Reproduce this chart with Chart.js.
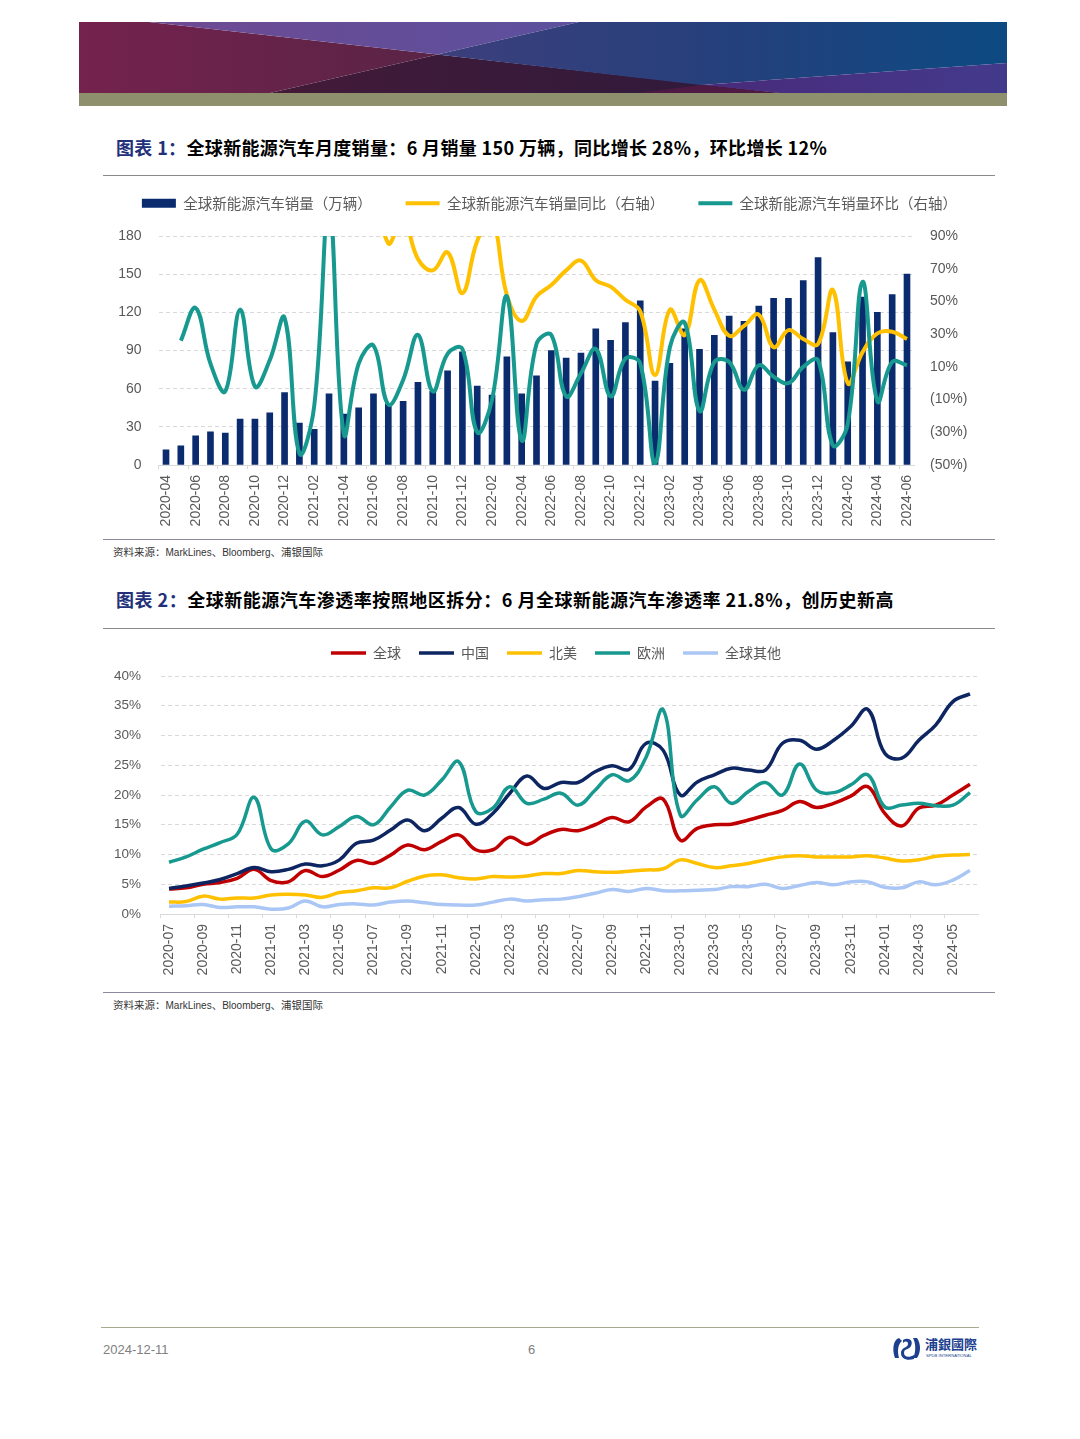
<!DOCTYPE html>
<html><head><meta charset="utf-8">
<script src="https://cdn.jsdelivr.net/npm/chart.js@4/dist/chart.umd.min.js"></script>
<style>
html,body{margin:0;padding:0;background:#fff;}
body{width:1080px;height:1439px;position:relative;overflow:hidden;font-family:"Noto Sans CJK SC","Noto Sans",sans-serif;}
.abs{position:absolute;}
.title{font-size:18px;font-weight:700;color:#000;white-space:nowrap;}
.title .lbl{color:#22307a;}
.rule{position:absolute;height:0;}
.src{font-size:10.5px;color:#333;white-space:nowrap;}
.src .lat{font-family:"Liberation Sans",Arial,sans-serif;font-size:10px;}
.foot{font-family:"Liberation Sans",Arial,sans-serif;font-size:13px;color:#808080;}
</style></head>
<body>
<svg class="abs" style="left:79px;top:22px" width="928" height="84" viewBox="0 0 928 84">
<defs>
<linearGradient id="gL" x1="0" x2="1"><stop offset="0" stop-color="#74224e"/><stop offset="1" stop-color="#5a2446"/></linearGradient>
<linearGradient id="gT" x1="0" x2="1"><stop offset="0" stop-color="#6e4a92"/><stop offset="1" stop-color="#5c509e"/></linearGradient>
<linearGradient id="gB" x1="0" x2="1"><stop offset="0" stop-color="#431a38"/><stop offset="1" stop-color="#2e1a3c"/></linearGradient>
<linearGradient id="gR" x1="0" x2="1"><stop offset="0" stop-color="#3c3f7c"/><stop offset="0.5" stop-color="#25407c"/><stop offset="1" stop-color="#0d4a82"/></linearGradient>
<linearGradient id="gP" x1="0" x2="1"><stop offset="0" stop-color="#4a2a7a"/><stop offset="1" stop-color="#433a8c"/></linearGradient>
</defs>
<polygon points="0,0 70,0 358.5,32.5 191,71 0,71" fill="url(#gL)"/>
<polygon points="70,0 500,0 358.5,32.5" fill="url(#gT)"/>
<polygon points="191,71 358.5,32.5 700,71" fill="url(#gB)"/>
<polygon points="500,0 928,0 928,41 622,63 358.5,32.5" fill="url(#gR)"/>
<polygon points="622,63 928,41 928,71 700,71" fill="url(#gP)"/>
<polygon points="560,71 622,63 700,71" fill="#4e1a44"/>
<rect x="0" y="71" width="928" height="13" fill="#8e8f6d"/>
</svg>

<div class="abs title" style="left:116px;top:134px;letter-spacing:0.35px;"><span class="lbl">图表 1：</span>全球新能源汽车月度销量：6 月销量 150 万辆，同比增长 28%，环比增长 12%</div>
<div class="rule" style="left:103px;top:175px;width:892px;border-top:1.5px solid #8a8a8a;"></div>

<div class="abs" style="left:100px;top:162px;width:899px;height:378px;"><canvas id="c1"></canvas></div>

<div class="rule" style="left:103px;top:539px;width:892px;border-top:1.5px solid #8a8a9e;"></div>
<div class="abs src" style="left:113px;top:544px;">资料来源：<span class="lat">MarkLines</span>、<span class="lat">Bloomberg</span>、浦银国际</div>

<div class="abs title" style="left:116px;top:586px;letter-spacing:0.5px;"><span class="lbl">图表 2：</span>全球新能源汽车渗透率按照地区拆分：6 月全球新能源汽车渗透率 21.8%，创历史新高</div>
<div class="rule" style="left:103px;top:628px;width:892px;border-top:1.5px solid #8a8a8a;"></div>

<div class="abs" style="left:100px;top:628px;width:912px;height:362px;"><canvas id="c2"></canvas></div>

<div class="rule" style="left:103px;top:992px;width:892px;border-top:1.5px solid #8a8a9e;"></div>
<div class="abs src" style="left:113px;top:997px;">资料来源：<span class="lat">MarkLines</span>、<span class="lat">Bloomberg</span>、浦银国际</div>

<div class="rule" style="left:101px;top:1327px;width:878px;border-top:1.5px solid #a9a98c;"></div>
<div class="abs foot" style="left:103px;top:1342px;">2024-12-11</div>
<div class="abs foot" style="left:528px;top:1342px;">6</div>
<svg class="abs" style="left:890px;top:1334px" width="92" height="28" viewBox="0 0 92 28">
<path d="M9 4 C3 6 2 16 5 24 L9 24 C7 17 8 10 12 7 Z" fill="#1d3f8f"/>
<path d="M13 6 C18 3 24 6 21 12 C19 16 14 14 14 19 C14 23 19 24 24 21 L24 25 C17 27 11 25 11 19 C11 13 18 14 18 10 C18 7 15 7 13 9 Z" fill="#1d3f8f"/>
<path d="M27 4 C31 10 31 18 27 24 L23 24 C26 18 26 10 23 4 Z" fill="#1d3f8f"/>
<text x="35" y="15" font-family="Noto Sans CJK TC" font-weight="700" font-size="13" fill="#1d3f8f">浦銀國際</text>
<text x="36" y="23" font-family="Liberation Sans" font-size="4.2" fill="#1d3f8f">SPDB INTERNATIONAL</text>
</svg>

<script>
// ---------- Chart 1 data ----------
const months1 = ["2020-04","2020-05","2020-06","2020-07","2020-08","2020-09","2020-10","2020-11","2020-12",
"2021-01","2021-02","2021-03","2021-04","2021-05","2021-06","2021-07","2021-08","2021-09","2021-10","2021-11","2021-12",
"2022-01","2022-02","2022-03","2022-04","2022-05","2022-06","2022-07","2022-08","2022-09","2022-10","2022-11","2022-12",
"2023-01","2023-02","2023-03","2023-04","2023-05","2023-06","2023-07","2023-08","2023-09","2023-10","2023-11","2023-12",
"2024-01","2024-02","2024-03","2024-04","2024-05","2024-06"];
const salesVolume = [12,15,23,26,25,36,36,41,57,33,28,56,40,45,56,48,50,65,58,74,89,62,55,85,56,70,90,84,88,107,98,112,129,66,80,107,91,102,117,113,125,131,131,145,163,104,81,132,120,134,150];
const salesYoY = [null,null,null,null,null,null,null,null,null,null,null,null,250,180,130,85.5,100,76,69,80,55,87,100,54,38,53,60,69,75,63,59,51,44,5,45,29.5,63,45,29,35,42,22,32.5,27,24,57,0,19,30.5,31.5,27];
const salesMoM = [null,26,46,12,-5,45,-2,14,40,-43,-14,110,-31,12,23,-13,2,29.5,-5,18,21,-30,-10,53,-35,24,29.5,-8,6,21,-8,15,12,-49,22,37,-17,13,13,-4,11,4,0,10,14,-38,-25,62,-11,13,11];
const series1Names = ["全球新能源汽车销量（万辆）","全球新能源汽车销量同比（右轴）","全球新能源汽车销量环比（右轴）"];

// ---------- Chart 2 data ----------
const months2 = ["2020-07","2020-08","2020-09","2020-10","2020-11","2020-12",
"2021-01","2021-02","2021-03","2021-04","2021-05","2021-06","2021-07","2021-08","2021-09","2021-10","2021-11","2021-12",
"2022-01","2022-02","2022-03","2022-04","2022-05","2022-06","2022-07","2022-08","2022-09","2022-10","2022-11","2022-12",
"2023-01","2023-02","2023-03","2023-04","2023-05","2023-06","2023-07","2023-08","2023-09","2023-10","2023-11","2023-12",
"2024-01","2024-02","2024-03","2024-04","2024-05","2024-06"];
const penGlobal = [4.2,4.4,5.0,5.3,6.0,7.5,5.6,5.4,7.3,6.3,7.4,9.0,8.5,9.9,11.6,10.8,12.2,13.3,10.8,10.8,12.9,11.7,13.2,14.2,14.0,15.0,16.2,15.5,18.0,19.3,12.4,14.4,15.0,15.1,15.8,16.6,17.4,18.9,17.9,18.6,19.8,21.4,16.9,14.8,17.8,18.3,20.0,21.8];
const penChina = [4.3,4.7,5.2,5.8,6.8,7.8,7.1,7.5,8.4,8.1,9.1,11.9,12.4,14.1,15.8,14.0,16.1,17.9,15.1,16.9,20.3,23.2,21.1,22.1,22.1,23.9,24.9,24.3,28.7,27.5,20.0,22.2,23.4,24.5,24.2,24.2,28.7,29.2,27.7,29.2,31.5,34.4,27.0,26.2,29.2,31.8,35.7,37.0];
const penNorthAmerica = [2.0,2.1,3.0,2.5,2.7,2.7,3.2,3.3,3.2,2.8,3.6,3.9,4.4,4.4,5.5,6.4,6.6,6.1,5.9,6.3,6.2,6.4,6.8,6.8,7.3,7.1,7.0,7.2,7.4,7.6,9.1,8.5,7.8,8.1,8.5,9.1,9.6,9.8,9.6,9.6,9.6,9.8,9.4,8.9,9.1,9.7,9.9,10.0];
const penEurope = [8.7,9.6,10.9,12.0,13.4,19.6,10.9,11.8,15.6,13.3,14.7,16.4,15.0,18.0,20.8,20.0,22.5,25.6,17.2,17.8,21.4,18.6,19.3,20.3,18.3,20.8,23.4,22.4,26.4,34.3,16.6,19.2,21.4,18.6,20.6,22.1,20.0,25.2,20.8,20.4,21.7,23.4,18.0,18.3,18.6,18.2,18.3,20.4];
const penRest = [1.3,1.4,1.6,1.1,1.2,1.2,0.8,1.0,2.2,1.2,1.6,1.7,1.5,2.0,2.2,1.9,1.6,1.5,1.5,2.0,2.5,2.2,2.4,2.5,2.9,3.5,4.1,3.8,4.3,3.9,3.9,4.0,4.1,4.6,4.6,5.0,4.3,4.8,5.3,4.9,5.4,5.4,4.5,4.4,5.4,4.9,5.7,7.3];
const series2Names = ["全球","中国","北美","欧洲","全球其他"];

// ---------- shared styles ----------
const NAVY = "#0b2b6f", YELLOW = "#ffc000", TEAL = "#17998f";
const GRID = "#d9d9d9", TXT = "#595959";
const xFont = {family:"Liberation Sans", size:14};
const yFont = {family:"Liberation Sans", size:14};

function xAxis(h){
  return {
    offset:true,
    grid:{display:true, drawOnChartArea:false, drawTicks:true, tickLength:4, offset:true,
          color:(c)=> (c.index % 2 === 0 ? GRID : 'rgba(0,0,0,0)')},
    border:{display:true, color:GRID, width:1},
    ticks:{autoSkip:false, maxRotation:90, minRotation:90, padding:6, color:TXT, font:xFont,
           callback:function(v,i){ return i % 2 === 0 ? this.getLabelForValue(v) : ''; }},
    afterFit:(s)=>{ s.height = h; }
  };
}

Chart.defaults.font.family = "Liberation Sans";

new Chart(document.getElementById('c1'), {
  data:{
    labels: months1,
    datasets:[
      {type:'bar', label:series1Names[0], data:salesVolume, yAxisID:'y', backgroundColor:NAVY, borderWidth:0,
       barThickness:6, order:3, pointStyle:'rect'},
      {type:'line', label:series1Names[1], data:salesYoY, yAxisID:'y1', borderColor:YELLOW, backgroundColor:YELLOW,
       borderWidth:4, pointRadius:0, pointHoverRadius:0, pointBorderWidth:4, pointStyle:'line', tension:0.4, fill:false, order:2},
      {type:'line', label:series1Names[2], data:salesMoM, yAxisID:'y1', borderColor:TEAL, backgroundColor:TEAL,
       borderWidth:4, pointRadius:0, pointHoverRadius:0, pointBorderWidth:4, pointStyle:'line', tension:0.4, fill:false, order:1}
    ]
  },
  options:{
    responsive:true, maintainAspectRatio:false, animation:false,
    layout:{padding:{top:0,left:0,right:0,bottom:5}},
    plugins:{
      legend:{position:'top', labels:{usePointStyle:true, pointStyleWidth:34, boxWidth:34, boxHeight:9, padding:34,
        color:TXT, font:{family:"Noto Sans CJK SC", size:14.5}, sort:(a,b)=>a.datasetIndex-b.datasetIndex}},
      title:{display:true, text:' ', weight:500, position:'top', font:{size:1, lineHeight:1}, padding:7.25},
      tooltip:{enabled:false}
    },
    scales:{
      x: xAxis(70),
      y:{position:'left', min:0, max:180, ticks:{stepSize:30, padding:17, color:TXT, font:yFont},
         grid:{color:GRID, drawTicks:false, lineWidth:1}, border:{display:false, dash:[4,3]},
         afterFit:(s)=>{ s.width = 58.6; }},
      y1:{position:'right', min:-50, max:90,
         ticks:{stepSize:20, padding:15.6, color:TXT, font:yFont,
                callback:(v)=> v < 0 ? '(' + Math.abs(v) + '%)' : v + '%'},
         grid:{display:false, drawTicks:false}, border:{display:false},
         afterFit:(s)=>{ s.width = 84.6; }}
    }
  }
});

const c2colors = ["#c00000","#0d2561",YELLOW,TEAL,"#aac6f5"];
const c2data = [penGlobal, penChina, penNorthAmerica, penEurope, penRest];
new Chart(document.getElementById('c2'), {
  type:'line',
  data:{
    labels: months2,
    datasets: c2data.map((d,i)=>({label:series2Names[i], data:d, borderColor:c2colors[i], backgroundColor:c2colors[i],
      borderWidth:3.5, pointRadius:0, pointHoverRadius:0, pointBorderWidth:3.5, pointStyle:'line', tension:0.4, fill:false,
      order: 5 - i}))
  },
  options:{
    responsive:true, maintainAspectRatio:false, animation:false,
    layout:{padding:{top:0,left:0,right:0,bottom:0}},
    plugins:{
      legend:{position:'top', labels:{usePointStyle:true, pointStyleWidth:35, boxWidth:35, boxHeight:4, padding:18,
        color:TXT, font:{family:"Noto Sans CJK SC", size:14}, sort:(a,b)=>a.datasetIndex-b.datasetIndex}},
      title:{display:true, text:' ', weight:500, position:'top', font:{size:1, lineHeight:1}, padding:2.5},
      tooltip:{enabled:false}
    },
    scales:{
      x: xAxis(76),
      y:{min:0, max:40, ticks:{stepSize:5, padding:19.5, color:TXT, font:{family:"Liberation Sans", size:13.5}, callback:(v)=> v + '%'},
         grid:{color:GRID, drawTicks:false, lineWidth:1}, border:{display:false, dash:[4,3]},
         afterFit:(s)=>{ s.width = 60.5; }},
      yR:{position:'right', display:true, min:0, max:40,
         ticks:{display:false}, grid:{display:false, drawTicks:false}, border:{display:false},
         afterFit:(s)=>{ s.width = 33.5; }}
    }
  }
});
</script>
</body></html>
